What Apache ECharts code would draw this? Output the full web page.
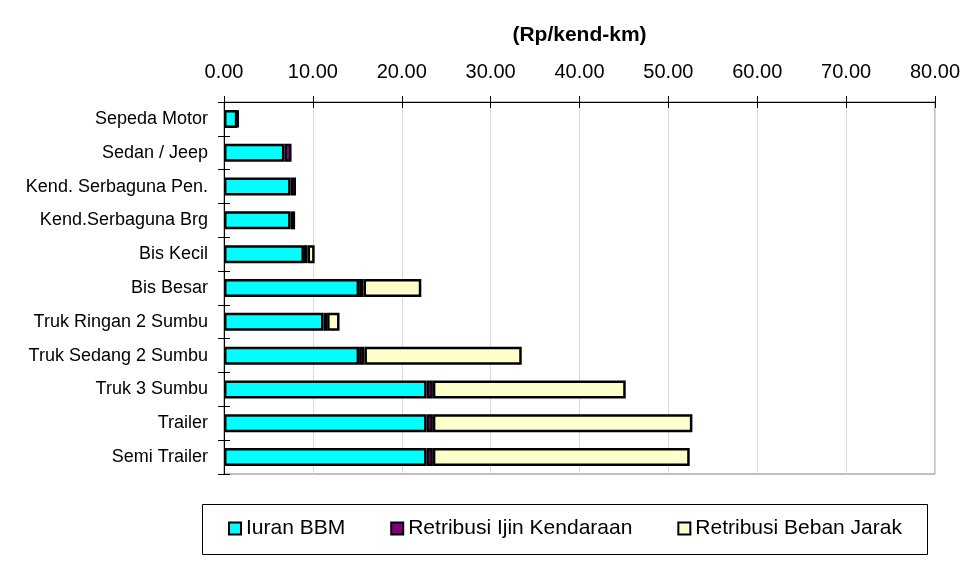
<!DOCTYPE html>
<html>
<head>
<meta charset="utf-8">
<script src="https://cdn.jsdelivr.net/npm/echarts@6/dist/echarts.min.js"></script>
<style>
  html, body { margin: 0; padding: 0; background: #fff; }
  #chart { width: 973px; height: 572px; }
</style>
</head>
<body>
<div id="chart"></div>
<script>
// categories (top to bottom)
var kendaraan = ['Sepeda Motor', 'Sedan / Jeep', 'Kend. Serbaguna Pen.', 'Kend.Serbaguna Brg',
  'Bis Kecil', 'Bis Besar', 'Truk Ringan 2 Sumbu', 'Truk Sedang 2 Sumbu',
  'Truk 3 Sumbu', 'Trailer', 'Semi Trailer']

// Rp/kend-km
var iuranBBM     = [1.5, 6.8, 7.5, 7.5, 9.0, 15.2, 11.2, 15.2, 22.8, 22.8, 22.8]
var ijinKendaraan = [0.1, 0.8, 0.6, 0.5, 0.4, 0.5, 0.4, 0.6, 0.7, 0.7, 0.7]
var bebanJarak   = [0, 0, 0, 0, 0.8, 6.5, 1.4, 17.7, 21.7, 29.2, 28.9]

var xTicks = [0, 10, 20, 30, 40, 50, 60, 70, 80]

var font = "'Liberation Sans', Arial, sans-serif"

function noZero(arr) {
  return arr.map(function (v) { return v === 0 ? '-' : v })
}

var chart = echarts.init(document.getElementById('chart'))

function barSeries(name, data, color) {
  return {
    name: name,
    type: 'bar',
    stack: 'total',
    barWidth: 18,
    data: noZero(data),
    itemStyle: {
      color: color,
      borderColor: '#000',
      borderWidth: 2.5
    },
    emphasis: { disabled: true }
  }
}

chart.setOption({
  animation: false,
  textStyle: { fontFamily: font },
  grid: {
    left: 224,
    right: 38,
    top: 102,
    bottom: 98,
    show: true,
    borderColor: '#808080',
    borderWidth: 1
  },
  legend: {
    left: 228,
    top: 518,
    padding: 0,
    itemGap: 45,
    itemWidth: 12,
    itemHeight: 12,
    icon: 'rect',
    itemStyle: { borderColor: '#000', borderWidth: 2 },
    textStyle: { fontSize: 21, color: '#000', fontFamily: font },
    data: ['Iuran BBM', 'Retribusi Ijin Kendaraan', 'Retribusi Beban Jarak']
  },
  graphic: [{
    type: 'rect',
    shape: { x: 202.5, y: 504.5, width: 725, height: 50 },
    style: { fill: 'none', stroke: '#000', lineWidth: 1 },
    z: -1
  }],
  xAxis: [{
    type: 'value',
    position: 'top',
    min: xTicks[0],
    max: xTicks[xTicks.length - 1],
    interval: 10,
    name: '(Rp/kend-km)',
    nameLocation: 'middle',
    nameGap: 56,
    nameTextStyle: { fontSize: 21, fontWeight: 'bold', color: '#000', fontFamily: font },
    axisLine: { show: true, lineStyle: { color: '#000', width: 1 } },
    axisTick: { show: true, length: 6, lineStyle: { color: '#000' } },
    axisLabel: {
      fontSize: 20,
      color: '#000',
      margin: 20,
      fontFamily: font,
      formatter: function (v) { return v.toFixed(2) }
    },
    splitLine: { show: true, lineStyle: { color: '#d9d9d9', width: 1 } }
  }, {
    type: 'value',
    position: 'top',
    min: xTicks[0],
    max: xTicks[xTicks.length - 1],
    interval: 10,
    axisLine: { show: false },
    axisTick: { show: true, inside: true, length: 6, lineStyle: { color: '#000' } },
    axisLabel: { show: false },
    splitLine: { show: false }
  }],
  yAxis: [{
    type: 'category',
    inverse: true,
    data: kendaraan,
    axisLine: { show: true, lineStyle: { color: '#000', width: 1 } },
    axisTick: { show: true, length: 6, lineStyle: { color: '#000' } },
    axisLabel: { fontSize: 18, color: '#000', margin: 16, fontFamily: font }
  }, {
    type: 'category',
    position: 'left',
    inverse: true,
    data: kendaraan,
    axisLine: { show: false },
    axisTick: { show: true, inside: true, length: 6, lineStyle: { color: '#000' } },
    axisLabel: { show: false }
  }],
  series: [
    barSeries('Iuran BBM', iuranBBM, '#00ffff'),
    barSeries('Retribusi Ijin Kendaraan', ijinKendaraan, '#800080'),
    barSeries('Retribusi Beban Jarak', bebanJarak, '#ffffcc')
  ]
})
</script>
</body>
</html>
